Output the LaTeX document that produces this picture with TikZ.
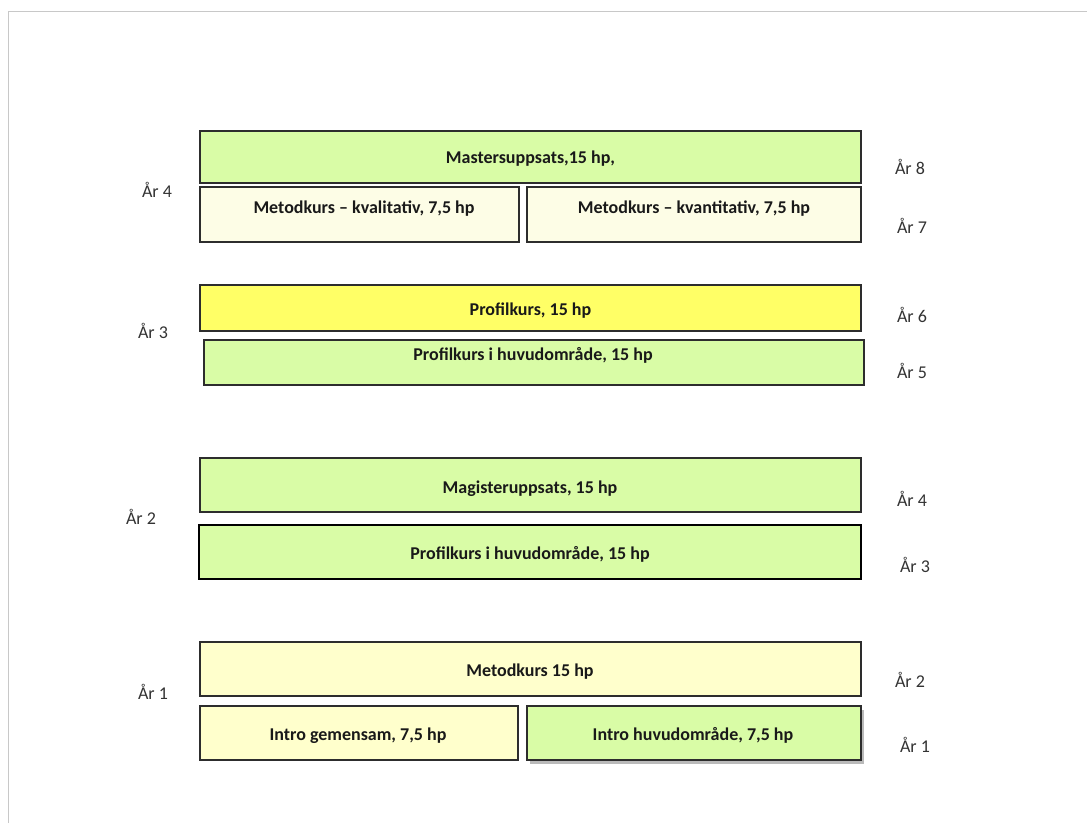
\documentclass[tikz,border=0pt]{standalone}
\usepackage{fontspec}
\setmainfont{Carlito}
\usetikzlibrary{shadows}
\definecolor{lgreen}{RGB}{217,252,166}
\definecolor{cream}{RGB}{253,253,230}
\definecolor{lyellow}{RGB}{255,255,204}
\definecolor{yel}{RGB}{255,255,102}
\definecolor{frame}{RGB}{200,200,200}
\definecolor{bord}{RGB}{45,45,45}
\tikzset{
  course/.style={draw=bord, line width=1.2pt, inner sep=0pt, outer sep=0pt},
  ctext/.style={font=\bfseries\fontsize{18}{20}\selectfont, text=black!90, yshift=-1.5pt},
  year/.style={font=\fontsize{18}{20}\selectfont, text=black!80, inner sep=0pt}
}
\begin{document}
\begin{tikzpicture}[x=1pt,y=-1pt]
\useasboundingbox (0,0) rectangle (1087,823);
\fill[white] (0,0) rectangle (1087,823);
\draw[frame, line width=1pt] (8,823) -- (8,11) -- (1087,11);
% Year 4
\draw[course, fill=lgreen] (200,131) rectangle (861,183);
\node[ctext] (mast) at (530.5,157) {Mastersuppsats,15 hp,};
\draw[course, fill=cream] (200,187) rectangle (519,242);
\node[ctext] (kval) at (364,207) {Metodkurs – kvalitativ, 7,5 hp};
\draw[course, fill=cream] (527,187) rectangle (861,242);
\node[ctext] (kvan) at (694,207) {Metodkurs – kvantitativ, 7,5 hp};
% Year 3
\draw[course, fill=yel] (200,285) rectangle (861,331);
\node[ctext] (prof) at (530.5,309) {Profilkurs, 15 hp};
\draw[course, fill=lgreen] (204,340) rectangle (864,385);
\node[ctext] (profh1) at (533,354) {Profilkurs i huvudområde, 15 hp};
% Year 2
\draw[course, fill=lgreen] (200,458) rectangle (861,512);
\node[ctext] (mag) at (530,487) {Magisteruppsats, 15 hp};
\draw[course, draw=black, line width=2.5pt, fill=lgreen] (199,525) rectangle (861,579);
\node[ctext] (profh2) at (530,553) {Profilkurs i huvudområde, 15 hp};
% Year 1
\draw[course, fill=lyellow] (200,642) rectangle (861,696);
\node[ctext] (met) at (530,670) {Metodkurs 15 hp};
\draw[course, fill=lyellow] (200,706) rectangle (518,760);
\node[ctext] (introg) at (358,734) {Intro gemensam, 7,5 hp};
\draw[course, fill=lgreen, drop shadow={shadow xshift=2.5pt, shadow yshift=-3.5pt, opacity=0.45, fill=black!60}] (527,706) rectangle (861,760);
\node[ctext] (introh) at (693,734) {Intro huvudområde, 7,5 hp};
% left labels
\node[year] (l4) at (157,190) {År 4};
\node[year] (l3) at (153,331) {År 3};
\node[year] (l2) at (141,517) {År 2};
\node[year] (l1) at (153,692) {År 1};
% right labels
\node[year] (r8) at (910,167) {År 8};
\node[year] (r7) at (912,226) {År 7};
\node[year] (r6) at (912,315) {År 6};
\node[year] (r5) at (912,371) {År 5};
\node[year] (r4) at (912,499) {År 4};
\node[year] (r3) at (915,565) {År 3};
\node[year] (r2) at (910,680) {År 2};
\node[year] (r1) at (915,745) {År 1};
\end{tikzpicture}
\end{document}
